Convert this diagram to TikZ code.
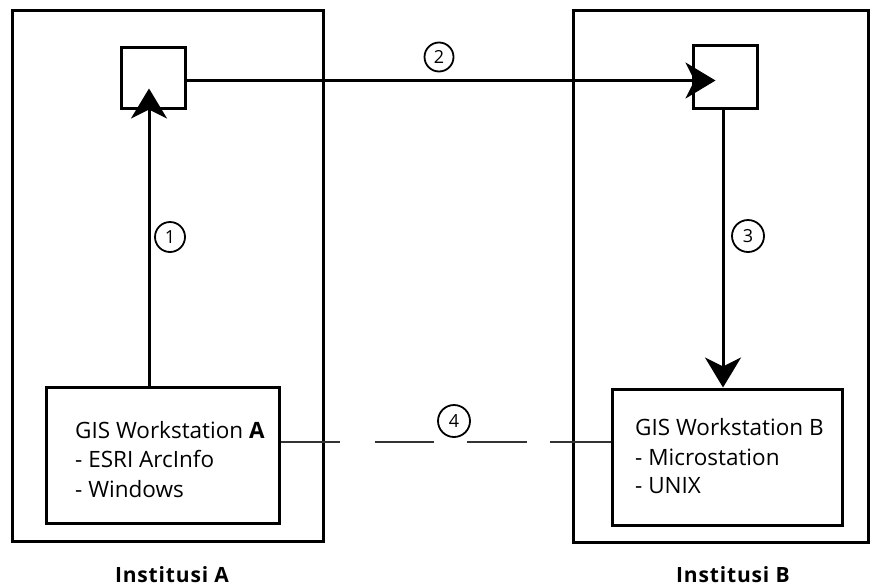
\documentclass[tikz,border=0pt]{standalone}
\usepackage{fontspec}
\setmainfont{Open Sans}
\newfontfamily\capfont[LetterSpace=4]{Open Sans}
\usetikzlibrary{arrows.meta,calc}
\begin{document}
\begin{tikzpicture}[x=1pt,y=-1pt,
  frame/.style={draw=black,line width=3pt,rectangle,inner sep=0pt},
  arr/.style={line width=3pt,-{Stealth[length=30pt,width=36pt,inset=9pt]}},
  num/.style={draw=black,circle,line width=1.8pt,inner sep=0pt,font=\fontsize{18}{18}\selectfont},
  wstext/.style={anchor=base west,inner sep=0pt,font=\fontsize{22.5}{22.5}\selectfont},
  caption/.style={anchor=base,inner sep=0pt,font=\capfont\fontsize{21}{21}\selectfont\bfseries}]
\useasboundingbox (0,0) rectangle (874,587);

% institution frames
\node[frame,minimum width=311pt,minimum height=531pt] (instA) at (167.5,275.5) {};
\node[frame,minimum width=295pt,minimum height=532pt] (instB) at (720.5,276) {};

% small transfer boxes
\node[frame,minimum width=64pt,minimum height=61pt] (boxA) at (153,77.5) {};
\node[frame,minimum width=64pt,minimum height=63pt] (boxB) at (725,76.5) {};

% workstations
\node[frame,minimum width=233pt,minimum height=136pt] (wsA) at (162.5,455) {};
\node[frame,minimum width=230pt,minimum height=136pt] (wsB) at (727,457) {};

\node[wstext] (wsA1) at (75,438) {GIS Workstation \textbf{A}};
\node[wstext] (wsA2) at (75,467) {- ESRI ArcInfo};
\node[wstext] (wsA3) at (75,497) {- Windows};
\node[wstext] (wsB1) at (635,435) {GIS Workstation B};
\node[wstext] (wsB2) at (635,465) {- Microstation};
\node[wstext] (wsB3) at (635,493) {- UNIX};

% connectors
\draw[arr] ($(boxA.south |- wsA.north)+(-4,0)$) -- ($(boxA.south)+(-4,-21)$);
\draw[arr] ($(boxA.east)+(0,3)$) -- ($(boxA.east -| boxB.west)+(24,3)$);
\draw[arr] ($(boxB.south)+(-2,0)$) -- ($(boxB.south |- wsB.north)+(-2,0)$);
\draw[line width=2.5pt,draw=black!80,
  dash pattern=on 59pt off 35pt on 59pt off 33pt on 60pt off 23pt on 64pt]
  ($(wsA.east)+(0,-13)$) -- ($(wsB.west)+(0,-15)$);

% step numbers
\node[num,minimum size=30pt] (n1) at (170,237) {1};
\node[num,minimum size=29pt] (n2) at (439,57) {2};
\node[num,minimum size=32pt] (n3) at (748,236) {3};
\node[num,minimum size=32pt] (n4) at (454,421) {4};

% captions
\node[caption] (capA) at (172,582) {Institusi A};
\node[caption] (capB) at (733,582) {Institusi B};
\end{tikzpicture}
\end{document}
